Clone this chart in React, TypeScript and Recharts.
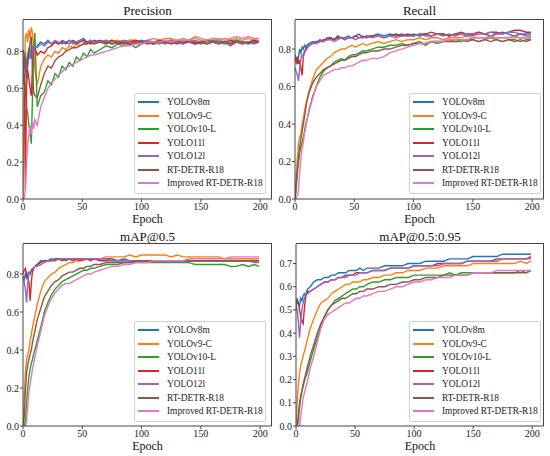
import { Label, Line, LineChart, XAxis, YAxis } from "recharts";

const FONT = '"Liberation Serif", "Times New Roman", serif';

const EPOCHS = [
  0, 1, 2, 3, 4, 5, 6, 7, 8, 9, 10,
  12, 15, 18, 21, 24, 27, 30, 33, 36, 39, 42, 45, 48, 51, 54, 57, 60,
  65, 70, 75, 80, 85, 90, 95, 100, 105, 110, 115, 120, 125, 130, 135, 140,
  145, 150, 155, 160, 165, 170, 175, 180, 185, 190, 195, 199,
];

const MODELS = [
  "YOLOv8m",
  "YOLOv9-C",
  "YOLOv10-L",
  "YOLO11l",
  "YOLO12l",
  "RT-DETR-R18",
  "Improved RT-DETR-R18",
];
const KEYS = ["v8m", "v9c", "v10l", "y11l", "y12l", "rtdetr", "improved"];
const COLORS = ["#1f77b4", "#ff7f0e", "#2ca02c", "#d62728", "#9467bd", "#8c564b", "#e377c2"];

const X_TICKS = [0, 50, 100, 150, 200];
const Y_TICKS_A = [0, 0.2, 0.4, 0.6, 0.8];
const Y_TICKS_B = [0, 0.1, 0.2, 0.3, 0.4, 0.5, 0.6, 0.7];

// ---- Precision ----
const precisionV8m = [
  0.75, 0.72, 0.80, 0.70, 0.78, 0.82, 0.76, 0.83, 0.80, 0.84, 0.82,
  0.83, 0.85, 0.84, 0.86, 0.84, 0.85, 0.84, 0.86, 0.85, 0.84, 0.86, 0.85, 0.86, 0.87, 0.85, 0.86, 0.85,
  0.86, 0.85, 0.86, 0.84, 0.85, 0.86, 0.85, 0.86, 0.85, 0.84, 0.86, 0.85, 0.86, 0.85, 0.85, 0.86,
  0.84, 0.85, 0.86, 0.85, 0.86, 0.85, 0.84, 0.86, 0.85, 0.84, 0.85, 0.85,
];
const precisionV9c = [
  0.0, 0.55, 0.88, 0.90, 0.85, 0.92, 0.87, 0.93, 0.90, 0.80, 0.70,
  0.62, 0.72, 0.76, 0.78, 0.77, 0.80, 0.79, 0.82, 0.81, 0.83, 0.82, 0.84, 0.83, 0.84, 0.85, 0.84, 0.85,
  0.85, 0.86, 0.85, 0.86, 0.85, 0.86, 0.86, 0.85, 0.86, 0.87, 0.86, 0.87, 0.87, 0.86, 0.87, 0.86,
  0.88, 0.87, 0.86, 0.87, 0.86, 0.87, 0.86, 0.87, 0.86, 0.87, 0.86, 0.86,
];
const precisionV10l = [
  0.62, 0.74, 0.58, 0.50, 0.46, 0.40, 0.36, 0.30, 0.55, 0.82, 0.90,
  0.50, 0.56, 0.58, 0.64, 0.62, 0.68, 0.66, 0.72, 0.70, 0.74, 0.72, 0.77, 0.75, 0.79, 0.77, 0.81, 0.79,
  0.81, 0.83, 0.82, 0.84, 0.83, 0.84, 0.82, 0.84, 0.85, 0.84, 0.85, 0.84, 0.86, 0.85, 0.84, 0.86,
  0.85, 0.84, 0.85, 0.86, 0.85, 0.84, 0.85, 0.86, 0.85, 0.85, 0.86, 0.85,
];
const precisionY11l = [
  0.81, 0.78, 0.05, 0.62, 0.70, 0.65, 0.60, 0.56, 0.72, 0.80, 0.82,
  0.78, 0.80, 0.79, 0.82, 0.83, 0.85, 0.84, 0.85, 0.84, 0.86, 0.85, 0.84, 0.85, 0.86, 0.85, 0.84, 0.86,
  0.85, 0.84, 0.86, 0.85, 0.84, 0.85, 0.86, 0.85, 0.84, 0.85, 0.86, 0.85, 0.84, 0.85, 0.86, 0.85,
  0.84, 0.85, 0.86, 0.85, 0.84, 0.85, 0.86, 0.85, 0.84, 0.85, 0.86, 0.85,
];
const precisionY12l = [
  0.70, 0.68, 0.72, 0.67, 0.74, 0.78, 0.80, 0.76, 0.82, 0.80, 0.83,
  0.82, 0.84, 0.83, 0.85, 0.84, 0.86, 0.85, 0.84, 0.85, 0.86, 0.84, 0.85, 0.86, 0.85, 0.84, 0.86, 0.85,
  0.85, 0.86, 0.84, 0.85, 0.86, 0.85, 0.84, 0.85, 0.86, 0.85, 0.84, 0.85, 0.86, 0.85, 0.84, 0.85,
  0.86, 0.85, 0.84, 0.85, 0.84, 0.85, 0.83, 0.85, 0.84, 0.85, 0.84, 0.85,
];
const precisionRtdetr = [
  0.70, 0.78, 0.74, 0.65, 0.72, 0.80, 0.85, 0.88, 0.70, 0.58, 0.56,
  0.55, 0.62, 0.68, 0.72, 0.71, 0.75, 0.77, 0.78, 0.80, 0.81, 0.82, 0.82, 0.83, 0.84, 0.84, 0.85, 0.84,
  0.85, 0.85, 0.84, 0.85, 0.85, 0.84, 0.85, 0.85, 0.85, 0.84, 0.85, 0.85, 0.85, 0.84, 0.85, 0.85,
  0.85, 0.85, 0.84, 0.85, 0.85, 0.85, 0.84, 0.85, 0.85, 0.85, 0.85, 0.85,
];
const precisionImproved = [
  0.0, 0.0, 0.05, 0.20, 0.30, 0.35, 0.40, 0.35, 0.42, 0.38, 0.43,
  0.40, 0.50, 0.55, 0.60, 0.63, 0.65, 0.67, 0.69, 0.71, 0.72, 0.73, 0.74, 0.75, 0.76, 0.77, 0.78, 0.78,
  0.79, 0.80, 0.81, 0.82, 0.83, 0.83, 0.84, 0.84, 0.85, 0.85, 0.85, 0.86, 0.85, 0.86, 0.86, 0.86,
  0.87, 0.86, 0.86, 0.87, 0.87, 0.86, 0.87, 0.88, 0.87, 0.88, 0.87, 0.87,
];

// ---- Recall ----
const recallV8m = [
  0.77, 0.75, 0.72, 0.76, 0.80, 0.78, 0.81, 0.80, 0.82, 0.81, 0.82,
  0.83, 0.84, 0.83, 0.85, 0.84, 0.86, 0.86, 0.85, 0.87, 0.86, 0.86, 0.87, 0.86, 0.87, 0.88, 0.86, 0.87,
  0.87, 0.88, 0.87, 0.88, 0.87, 0.88, 0.87, 0.88, 0.87, 0.88, 0.87, 0.88, 0.88, 0.87, 0.88, 0.88,
  0.87, 0.88, 0.89, 0.88, 0.87, 0.88, 0.89, 0.88, 0.87, 0.88, 0.88, 0.88,
];
const recallV9c = [
  0.0, 0.12, 0.22, 0.30, 0.33, 0.35, 0.40, 0.43, 0.47, 0.50, 0.53,
  0.58, 0.64, 0.69, 0.71, 0.73, 0.75, 0.76, 0.78, 0.79, 0.80, 0.80, 0.81, 0.82, 0.81, 0.82, 0.83, 0.82,
  0.83, 0.84, 0.83, 0.84, 0.85, 0.84, 0.85, 0.85, 0.86, 0.85, 0.86, 0.86, 0.85, 0.86, 0.86, 0.86,
  0.87, 0.86, 0.86, 0.86, 0.87, 0.86, 0.86, 0.86, 0.87, 0.86, 0.86, 0.86,
];
const recallV10l = [
  0.0, 0.05, 0.15, 0.20, 0.25, 0.28, 0.30, 0.33, 0.36, 0.40, 0.42,
  0.48, 0.55, 0.60, 0.65, 0.68, 0.70, 0.71, 0.73, 0.74, 0.75, 0.74, 0.76, 0.77, 0.77, 0.78, 0.79, 0.79,
  0.80, 0.81, 0.81, 0.82, 0.82, 0.83, 0.82, 0.83, 0.84, 0.82, 0.84, 0.83, 0.84, 0.85, 0.84, 0.84,
  0.85, 0.85, 0.84, 0.85, 0.86, 0.85, 0.84, 0.85, 0.85, 0.84, 0.85, 0.85,
];
const recallY11l = [
  0.75, 0.73, 0.76, 0.72, 0.74, 0.70, 0.66, 0.76, 0.79, 0.80, 0.81,
  0.82, 0.83, 0.84, 0.84, 0.85, 0.85, 0.86, 0.85, 0.86, 0.86, 0.85, 0.86, 0.86, 0.87, 0.86, 0.87, 0.86,
  0.87, 0.87, 0.86, 0.87, 0.88, 0.87, 0.88, 0.87, 0.88, 0.88, 0.89, 0.88, 0.88, 0.87, 0.88, 0.89,
  0.88, 0.88, 0.89, 0.88, 0.89, 0.89, 0.88, 0.89, 0.90, 0.90, 0.89, 0.89,
];
const recallY12l = [
  0.70, 0.68, 0.66, 0.63, 0.70, 0.75, 0.77, 0.76, 0.78, 0.79, 0.80,
  0.82, 0.83, 0.83, 0.84, 0.84, 0.85, 0.85, 0.84, 0.85, 0.86, 0.85, 0.86, 0.86, 0.85, 0.86, 0.86, 0.87,
  0.86, 0.87, 0.86, 0.87, 0.86, 0.87, 0.87, 0.87, 0.88, 0.87, 0.87, 0.88, 0.87, 0.88, 0.87, 0.88,
  0.88, 0.87, 0.88, 0.88, 0.89, 0.88, 0.88, 0.89, 0.89, 0.88, 0.87, 0.87,
];
const recallRtdetr = [
  0.0, 0.08, 0.15, 0.22, 0.28, 0.32, 0.36, 0.40, 0.44, 0.48, 0.52,
  0.57, 0.62, 0.65, 0.67, 0.69, 0.70, 0.71, 0.72, 0.73, 0.74, 0.74, 0.75, 0.76, 0.76, 0.77, 0.78, 0.78,
  0.79, 0.79, 0.80, 0.80, 0.81, 0.82, 0.82, 0.83, 0.83, 0.83, 0.84, 0.84, 0.84, 0.84, 0.84, 0.85,
  0.84, 0.85, 0.84, 0.85, 0.84, 0.85, 0.84, 0.85, 0.84, 0.85, 0.84, 0.85,
];
const recallImproved = [
  0.0, 0.0, 0.02, 0.05, 0.15, 0.22, 0.27, 0.30, 0.35, 0.38, 0.42,
  0.47, 0.54, 0.60, 0.63, 0.66, 0.67, 0.68, 0.69, 0.69, 0.70, 0.70, 0.71, 0.71, 0.72, 0.73, 0.74, 0.74,
  0.75, 0.75, 0.76, 0.78, 0.79, 0.80, 0.81, 0.82, 0.83, 0.83, 0.84, 0.84, 0.84, 0.85, 0.85, 0.85,
  0.85, 0.86, 0.86, 0.86, 0.86, 0.86, 0.86, 0.86, 0.86, 0.86, 0.86, 0.86,
];

// ---- mAP@0.5 ----
const map50V8m = [
  0.79, 0.77, 0.80, 0.78, 0.80, 0.81, 0.80, 0.82, 0.81, 0.83, 0.84,
  0.85, 0.87, 0.87, 0.87, 0.88, 0.87, 0.88, 0.88, 0.87, 0.88, 0.88, 0.88, 0.88, 0.88, 0.88, 0.88, 0.88,
  0.88, 0.88, 0.88, 0.87, 0.88, 0.87, 0.87, 0.87, 0.87, 0.87, 0.87, 0.87, 0.87, 0.87, 0.87, 0.87,
  0.87, 0.87, 0.87, 0.87, 0.87, 0.87, 0.87, 0.87, 0.87, 0.87, 0.87, 0.87,
];
const map50V9c = [
  0.0, 0.15, 0.28, 0.35, 0.38, 0.40, 0.45, 0.48, 0.52, 0.55, 0.58,
  0.64, 0.71, 0.76, 0.78, 0.80, 0.81, 0.83, 0.84, 0.85, 0.86, 0.86, 0.87, 0.87, 0.87, 0.88, 0.88, 0.88,
  0.88, 0.89, 0.89, 0.89, 0.89, 0.90, 0.89, 0.90, 0.90, 0.90, 0.90, 0.90, 0.89, 0.90, 0.89, 0.89,
  0.89, 0.89, 0.89, 0.89, 0.89, 0.88, 0.88, 0.88, 0.88, 0.88, 0.88, 0.88,
];
const map50V10l = [
  0.0, 0.0, 0.03, 0.12, 0.20, 0.26, 0.30, 0.33, 0.35, 0.38, 0.40,
  0.45, 0.52, 0.60, 0.65, 0.69, 0.72, 0.74, 0.76, 0.77, 0.78, 0.79, 0.80, 0.81, 0.82, 0.82, 0.83, 0.83,
  0.84, 0.85, 0.85, 0.85, 0.86, 0.86, 0.86, 0.86, 0.86, 0.86, 0.86, 0.86, 0.86, 0.86, 0.86, 0.86,
  0.85, 0.85, 0.85, 0.85, 0.85, 0.85, 0.84, 0.84, 0.85, 0.84, 0.85, 0.84,
];
const map50Y11l = [
  0.80, 0.82, 0.83, 0.80, 0.78, 0.76, 0.66, 0.75, 0.82, 0.83, 0.84,
  0.85, 0.86, 0.87, 0.87, 0.87, 0.88, 0.88, 0.87, 0.88, 0.88, 0.87, 0.88, 0.87, 0.88, 0.88, 0.87, 0.88,
  0.87, 0.87, 0.87, 0.87, 0.87, 0.87, 0.87, 0.87, 0.87, 0.87, 0.87, 0.87, 0.87, 0.87, 0.87, 0.87,
  0.87, 0.87, 0.87, 0.87, 0.87, 0.87, 0.87, 0.87, 0.87, 0.87, 0.87, 0.87,
];
const map50Y12l = [
  0.78, 0.76, 0.72, 0.65, 0.75, 0.80, 0.81, 0.82, 0.83, 0.83, 0.84,
  0.84, 0.85, 0.86, 0.87, 0.87, 0.87, 0.88, 0.88, 0.88, 0.88, 0.88, 0.88, 0.88, 0.88, 0.88, 0.88, 0.88,
  0.88, 0.88, 0.87, 0.87, 0.87, 0.87, 0.87, 0.87, 0.87, 0.87, 0.87, 0.87, 0.87, 0.87, 0.87, 0.87,
  0.87, 0.87, 0.87, 0.87, 0.87, 0.87, 0.87, 0.87, 0.87, 0.87, 0.86, 0.86,
];
const map50Rtdetr = [
  0.0, 0.05, 0.18, 0.28, 0.32, 0.35, 0.38, 0.40, 0.44, 0.47, 0.50,
  0.56, 0.62, 0.68, 0.71, 0.74, 0.76, 0.77, 0.79, 0.80, 0.81, 0.81, 0.82, 0.83, 0.83, 0.84, 0.84, 0.85,
  0.85, 0.86, 0.86, 0.86, 0.86, 0.86, 0.87, 0.87, 0.87, 0.87, 0.87, 0.87, 0.87, 0.87, 0.87, 0.87,
  0.87, 0.87, 0.87, 0.87, 0.87, 0.87, 0.87, 0.87, 0.87, 0.87, 0.87, 0.87,
];
const map50Improved = [
  0.0, 0.0, 0.0, 0.02, 0.10, 0.18, 0.22, 0.26, 0.30, 0.33, 0.36,
  0.42, 0.50, 0.58, 0.63, 0.67, 0.70, 0.72, 0.74, 0.75, 0.75, 0.76, 0.77, 0.78, 0.79, 0.80, 0.80, 0.81,
  0.82, 0.83, 0.84, 0.84, 0.85, 0.85, 0.86, 0.86, 0.86, 0.87, 0.87, 0.87, 0.87, 0.87, 0.87, 0.88,
  0.88, 0.88, 0.88, 0.88, 0.88, 0.88, 0.89, 0.89, 0.89, 0.89, 0.89, 0.89,
];

// ---- mAP@0.5:0.95 ----
const map5095V8m = [
  0.50, 0.55, 0.53, 0.52, 0.55, 0.54, 0.56, 0.57, 0.56, 0.58, 0.59,
  0.60, 0.62, 0.63, 0.63, 0.64, 0.64, 0.65, 0.65, 0.66, 0.66, 0.66, 0.67, 0.67, 0.67, 0.68, 0.67, 0.68,
  0.68, 0.68, 0.69, 0.69, 0.69, 0.69, 0.70, 0.70, 0.70, 0.71, 0.71, 0.71, 0.71, 0.72, 0.72, 0.72,
  0.72, 0.73, 0.73, 0.73, 0.73, 0.73, 0.74, 0.74, 0.74, 0.74, 0.74, 0.74,
];
const map5095V9c = [
  0.0, 0.10, 0.18, 0.23, 0.26, 0.28, 0.30, 0.32, 0.34, 0.36, 0.38,
  0.42, 0.46, 0.50, 0.53, 0.54, 0.55, 0.57, 0.58, 0.59, 0.60, 0.61, 0.61, 0.62, 0.62, 0.62, 0.63, 0.63,
  0.64, 0.64, 0.65, 0.65, 0.66, 0.66, 0.67, 0.67, 0.67, 0.68, 0.68, 0.68, 0.69, 0.69, 0.69, 0.69,
  0.69, 0.70, 0.70, 0.70, 0.70, 0.70, 0.70, 0.70, 0.70, 0.71, 0.70, 0.71,
];
const map5095V10l = [
  0.0, 0.0, 0.02, 0.08, 0.12, 0.15, 0.17, 0.19, 0.21, 0.22, 0.24,
  0.28, 0.33, 0.38, 0.43, 0.47, 0.50, 0.52, 0.54, 0.55, 0.56, 0.57, 0.58, 0.59, 0.59, 0.60, 0.60, 0.61,
  0.62, 0.62, 0.63, 0.63, 0.64, 0.64, 0.64, 0.65, 0.65, 0.65, 0.65, 0.65, 0.65, 0.66, 0.65, 0.66,
  0.66, 0.66, 0.66, 0.66, 0.66, 0.66, 0.66, 0.66, 0.66, 0.67, 0.66, 0.67,
];
const map5095Y11l = [
  0.54, 0.53, 0.53, 0.50, 0.47, 0.45, 0.44, 0.50, 0.55, 0.57, 0.58,
  0.58, 0.59, 0.60, 0.61, 0.62, 0.62, 0.63, 0.63, 0.64, 0.64, 0.65, 0.65, 0.65, 0.66, 0.66, 0.66, 0.66,
  0.67, 0.67, 0.67, 0.68, 0.68, 0.68, 0.68, 0.69, 0.69, 0.69, 0.69, 0.70, 0.70, 0.70, 0.70, 0.70,
  0.71, 0.71, 0.71, 0.71, 0.71, 0.72, 0.72, 0.72, 0.72, 0.72, 0.72, 0.73,
];
const map5095Y12l = [
  0.52, 0.50, 0.45, 0.38, 0.45, 0.50, 0.53, 0.55, 0.56, 0.57, 0.57,
  0.58, 0.59, 0.60, 0.61, 0.62, 0.62, 0.63, 0.63, 0.64, 0.64, 0.64, 0.65, 0.65, 0.65, 0.66, 0.66, 0.66,
  0.67, 0.67, 0.67, 0.68, 0.68, 0.68, 0.68, 0.69, 0.69, 0.69, 0.69, 0.69, 0.70, 0.70, 0.70, 0.70,
  0.71, 0.71, 0.71, 0.71, 0.71, 0.71, 0.72, 0.72, 0.72, 0.72, 0.72, 0.72,
];
const map5095Rtdetr = [
  0.0, 0.0, 0.05, 0.10, 0.13, 0.15, 0.18, 0.20, 0.22, 0.24, 0.26,
  0.30, 0.35, 0.40, 0.44, 0.47, 0.50, 0.52, 0.53, 0.54, 0.55, 0.55, 0.56, 0.57, 0.57, 0.58, 0.58, 0.59,
  0.59, 0.60, 0.60, 0.61, 0.61, 0.62, 0.62, 0.63, 0.63, 0.64, 0.64, 0.64, 0.65, 0.65, 0.65, 0.65,
  0.65, 0.66, 0.66, 0.66, 0.66, 0.66, 0.66, 0.66, 0.66, 0.66, 0.66, 0.67,
];
const map5095Improved = [
  0.0, 0.0, 0.0, 0.0, 0.04, 0.08, 0.12, 0.14, 0.16, 0.18, 0.20,
  0.25, 0.30, 0.36, 0.42, 0.46, 0.48, 0.49, 0.50, 0.51, 0.52, 0.53, 0.53, 0.54, 0.55, 0.55, 0.56, 0.56,
  0.57, 0.58, 0.58, 0.59, 0.60, 0.60, 0.61, 0.62, 0.62, 0.63, 0.63, 0.64, 0.64, 0.64, 0.65, 0.65,
  0.65, 0.66, 0.66, 0.66, 0.66, 0.67, 0.67, 0.67, 0.67, 0.67, 0.67, 0.67,
];

function buildRows(series: number[][]) {
  return EPOCHS.map((epoch, i) => {
    const row: Record<string, number> = { epoch };
    KEYS.forEach((k, j) => {
      row[k] = series[j][i];
    });
    return row;
  });
}

const X_MAX = 210;
const W = 275;
const H = 228;
const X_AXIS_H = 29;

const panels = [
  {
    title: "Precision",
    rows: buildRows([precisionV8m, precisionV9c, precisionV10l, precisionY11l, precisionY12l, precisionRtdetr, precisionImproved]),
    yMax: 0.97,
    yTicks: Y_TICKS_A,
    left: 0, top: 0, yWidth: 23, mTop: 20, mRight: 3, mBottom: 0, titleTop: 4,
  },
  {
    title: "Recall",
    rows: buildRows([recallV8m, recallV9c, recallV10l, recallY11l, recallY12l, recallRtdetr, recallImproved]),
    yMax: 0.955,
    yTicks: Y_TICKS_A,
    left: 275, top: 0, yWidth: 20, mTop: 20, mRight: 6, mBottom: 0, titleTop: 4,
  },
  {
    title: "mAP@0.5",
    rows: buildRows([map50V8m, map50V9c, map50V10l, map50Y11l, map50Y12l, map50Rtdetr, map50Improved]),
    yMax: 0.958,
    yTicks: Y_TICKS_A,
    left: 0, top: 228, yWidth: 23, mTop: 16, mRight: 3, mBottom: 1, titleTop: 2,
  },
  {
    title: "mAP@0.5:0.95",
    rows: buildRows([map5095V8m, map5095V9c, map5095V10l, map5095Y11l, map5095Y12l, map5095Rtdetr, map5095Improved]),
    yMax: 0.784,
    yTicks: Y_TICKS_B,
    left: 275, top: 228, yWidth: 21, mTop: 16, mRight: 6, mBottom: 1, titleTop: 2,
  },
];

const AXIS = "#444";

function LegendBox() {
  return (
    <div
      style={{
        position: "absolute",
        right: 9,
        bottom: 34,
        width: 130,
        padding: "2px 0 3px 0",
        border: "1px solid #d0d0d0",
        borderRadius: 2,
        background: "rgba(255,255,255,0.85)",
        fontFamily: FONT,
        fontSize: 9.4,
        color: "#222",
        zIndex: 3,
      }}
    >
      {MODELS.map((name, i) => (
        <div key={name} style={{ display: "flex", alignItems: "center", height: 13.5 }}>
          <div style={{ width: 21, height: 2, background: COLORS[i], marginLeft: 3, marginRight: 8 }} />
          <span style={{ whiteSpace: "nowrap" }}>{name}</span>
        </div>
      ))}
    </div>
  );
}

function MetricPanel({ p }: { p: (typeof panels)[number] }) {
  const tick = { fill: "#222", fontSize: 10, fontFamily: FONT };
  const plotW = W - p.yWidth - p.mRight;
  const plotH = H - p.mTop - p.mBottom - X_AXIS_H;
  return (
    <div style={{ position: "absolute", left: p.left, top: p.top, width: W, height: H }}>
      <div
        style={{
          position: "absolute",
          left: p.yWidth,
          width: plotW,
          top: p.titleTop,
          textAlign: "center",
          fontFamily: FONT,
          fontSize: 13,
          lineHeight: "14px",
          color: "#111",
        }}
      >
        {p.title}
      </div>
      <LineChart
        width={W}
        height={H}
        data={p.rows}
        margin={{ top: p.mTop, right: p.mRight, left: 0, bottom: p.mBottom }}
      >
        <XAxis
          dataKey="epoch"
          type="number"
          domain={[0, X_MAX]}
          ticks={X_TICKS}
          tick={tick}
          tickSize={3}
          tickMargin={1}
          axisLine={{ stroke: AXIS }}
          tickLine={{ stroke: AXIS }}
          height={X_AXIS_H}
          allowDataOverflow
        >
          <Label
            value="Epoch"
            position="insideBottom"
            offset={5}
            style={{ fontFamily: FONT, fontSize: 12, fill: "#111" }}
          />
        </XAxis>
        <YAxis
          type="number"
          domain={[0, p.yMax]}
          ticks={p.yTicks}
          tickFormatter={(v) => Number(v).toFixed(1)}
          tick={tick}
          tickSize={3}
          tickMargin={1}
          axisLine={{ stroke: AXIS }}
          tickLine={{ stroke: AXIS }}
          width={p.yWidth}
          allowDataOverflow
        />
        {KEYS.map((k, i) => (
          <Line
            key={k}
            dataKey={k}
            name={MODELS[i]}
            stroke={COLORS[i]}
            strokeWidth={1.4}
            dot={false}
            type="linear"
            isAnimationActive={false}
          />
        ))}
      </LineChart>
      {/* top and right spines of the axes box */}
      <div
        style={{
          position: "absolute",
          left: p.yWidth,
          top: p.mTop - 1,
          width: plotW,
          height: 1,
          background: AXIS,
          zIndex: 2,
        }}
      />
      <div
        style={{
          position: "absolute",
          left: p.yWidth + plotW - 1,
          top: p.mTop - 1,
          width: 1,
          height: plotH + 1,
          background: AXIS,
          zIndex: 2,
        }}
      />
      <LegendBox />
    </div>
  );
}

export default function App() {
  return (
    <div
      style={{
        position: "absolute",
        left: 0,
        top: 0,
        width: 550,
        height: 456,
        background: "#fff",
        overflow: "hidden",
      }}
    >
      {panels.map((p) => (
        <MetricPanel key={p.title} p={p} />
      ))}
    </div>
  );
}
